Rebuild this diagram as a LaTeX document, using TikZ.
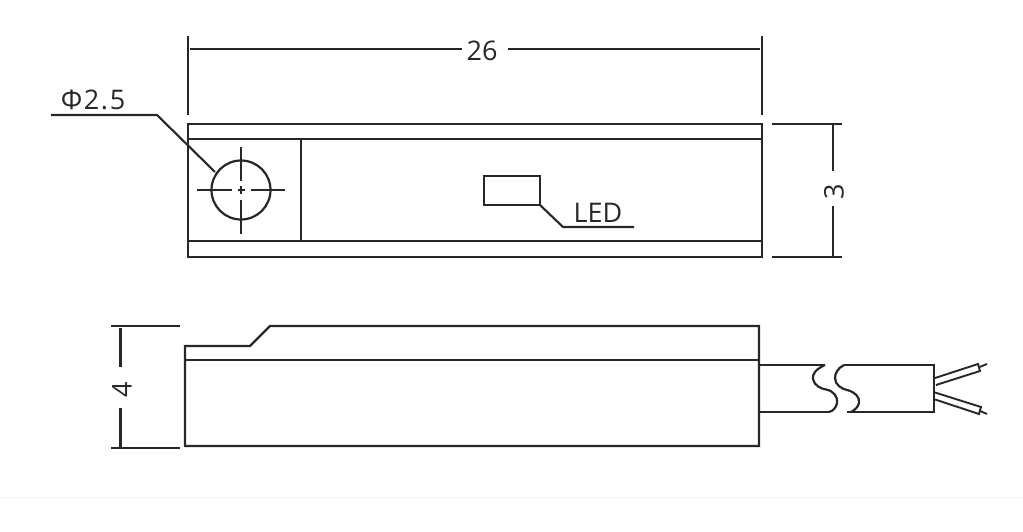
\documentclass[tikz,border=0pt]{standalone}
\usepackage{fontspec}
\setmainfont{Open Sans}
\newfontfamily\spaced[LetterSpace=6]{Open Sans}
\begin{document}
\begin{tikzpicture}[x=1pt,y=-1pt,
  outline/.style={draw=ink,line width=2.2pt},
  dimline/.style={draw=ink,line width=2.1pt},
  wire/.style={draw=ink,line width=1.9pt},
  label/.style={text=ink,inner sep=0pt,font=\fontsize{27}{27}\selectfont},
  smalllabel/.style={text=ink,inner sep=0pt,font=\fontsize{27}{27}\selectfont},
  dialabel/.style={text=ink,inner sep=0pt,font=\spaced\fontsize{27}{27}\selectfont}]
\definecolor{ink}{HTML}{2A2625}
\definecolor{faint}{HTML}{F1F1F1}
\useasboundingbox (0,0) rectangle (1023,532);
\draw[faint,line width=1pt] (0,497.5) -- (1023,497.5);
% top view
\draw[outline] (188,124) rectangle (762,257);
\draw[outline] (188,139) -- (762,139);
\draw[outline] (188,241) -- (762,241);
\draw[outline] (301,139) -- (301,241);
\draw[outline] (241,190) circle (29.5);
\draw[wire] (197,190) -- (232,190) (238,190) -- (245,190) (251,190) -- (285,190);
\draw[wire] (241,147) -- (241,181) (241,186) -- (241,194) (241,200) -- (241,234);
\draw[dimline] (51,115) -- (157,115) -- (215,172);
\node[dialabel] (dia) at (93,100) {Φ2.5};
\draw[outline] (484,176) rectangle (540,205);
\draw[dimline] (540,205) -- (563,227) -- (634,227);
\node[smalllabel] (led) at (598,213) {LED};
% dim 26
\draw[dimline] (188,36) -- (188,115);
\draw[dimline] (762,36) -- (762,115);
\node[label] (w) at (482,51) {26};
\draw[dimline] (190,49) -- (462,49);
\draw[dimline] (508,49) -- (760,49);
% dim 3
\draw[dimline] (772,124) -- (842,124);
\draw[dimline] (772,257) -- (842,257);
\draw[dimline] (833,124) -- (833,171);
\draw[dimline] (833,206) -- (833,257);
\node[label,rotate=90] (h) at (834,192) {3};
% side view
\draw[outline] (185,346) -- (250,346) -- (270,326) -- (759,326) -- (759,446) -- (185,446) -- cycle;
\draw[outline] (185,360) -- (759,360);
\draw[dimline] (111,326) -- (180,326);
\draw[dimline] (111,448) -- (180,448);
\draw[dimline] (120.5,328) -- (120.5,367);
\draw[dimline] (120.5,408) -- (120.5,447);
\node[label,rotate=90] (d) at (122,390) {4};
% cable
\draw[outline] (759,365) -- (825,365);
\draw[outline] (759,412) -- (829,412);
\draw[outline] (825,365) .. controls (816,369) and (812,374) .. (813,379)
  .. controls (814,386) and (822,389) .. (826,389.5)
  .. controls (834,391) and (838,397) .. (837,403)
  .. controls (836,408) and (833,411) .. (829,412);
\draw[outline] (844,365) .. controls (838,368) and (835,373) .. (835,378)
  .. controls (835,385) and (842,389) .. (847,390)
  .. controls (855,392) and (860,397) .. (859,403)
  .. controls (858,407) and (855,410) .. (851,412);
\draw[outline] (847,412) -- (934,412) -- (934,365) -- (844,365);
\draw[wire] (935,378) -- (978,364) -- (980,371) -- (936,385);
\draw[wire] (979.5,367) -- (987,364);
\draw[wire] (935,392.5) -- (981,407) -- (979,414) -- (935,399.5);
\draw[wire] (980,411) -- (987,414);
\end{tikzpicture}
\end{document}
